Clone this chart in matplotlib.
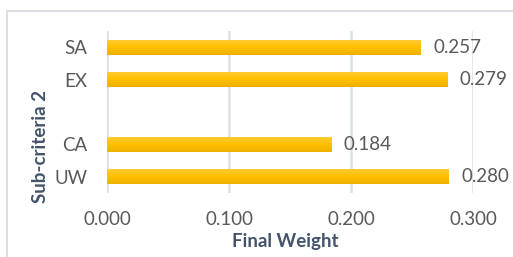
import matplotlib.pyplot as plt
import matplotlib.patches as mpatches
from matplotlib.colors import LinearSegmentedColormap
import numpy as np

# data (bottom to top, blank slot between CA and EX)
categories = ['UW', 'CA', '', 'EX', 'SA']
weights = [0.280, 0.184, np.nan, 0.279, 0.257]
xticks = [0.0, 0.1, 0.2, 0.3]

plt.rcParams['font.family'] = ['Lato', 'DejaVu Sans']

W, H = 513, 257
fig = plt.figure(figsize=(W / 100, H / 100), dpi=100)

# chart border (cut off at right/bottom like the screenshot)
fig.patches.append(mpatches.Rectangle((7 / W, -0.1), 1.2, 1 - 11 / H + 0.1,
                                      transform=fig.transFigure, fill=False,
                                      edgecolor='#D9DDE3', linewidth=1.4))

ax = fig.add_axes([107 / W, 1 - 193 / H, (473 - 107) / W, (193 - 31) / H])

ypos = np.arange(len(categories))
bars = ax.barh(ypos, weights, height=0.46, color='#FFC000', zorder=2)

# vertical gradient on each bar
grad = LinearSegmentedColormap.from_list('gold', ['#EDB000', '#FFC000', '#FFCB30'])
for p in bars.patches:
    if not np.isfinite(p.get_width()):
        continue
    x0, y0 = p.get_x(), p.get_y()
    img = ax.imshow(np.linspace(0, 1, 50).reshape(-1, 1), cmap=grad, aspect='auto',
                    origin='lower', extent=(x0, x0 + p.get_width(), y0, y0 + p.get_height()),
                    zorder=3)
    img.set_clip_path(p)

labels = ['' if np.isnan(v) else f'{v:.3f}' for v in weights]
ax.bar_label(bars, labels=labels, padding=9, fontsize=13.5, color='#595959')

ax.set_xlim(0, 0.3)
ax.set_ylim(-0.5, len(categories) - 0.5)
ax.set_xticks(xticks)
ax.set_xticklabels([f'{t:.3f}' for t in xticks])
ax.set_yticks(ypos)
ax.set_yticklabels(categories)
ax.tick_params(axis='both', length=0, labelsize=13.5, labelcolor='#595959')
ax.tick_params(axis='y', pad=14)
ax.tick_params(axis='x', pad=13)

ax.grid(axis='x', color='#DCE1E8', linewidth=1.8, zorder=0)
ax.set_axisbelow(True)
for s in ax.spines.values():
    s.set_visible(False)

ax.set_xlabel('Final Weight', fontsize=13.5, fontweight='bold', color='#44546A', va='center')
ax.xaxis.set_label_coords(0.486, -0.302)
ax.set_ylabel('Sub-criteria 2', fontsize=13.5, fontweight='bold', color='#44546A', va='center')
ax.yaxis.set_label_coords(-0.183, 0.29)

fig.savefig('out.png', dpi=100)
